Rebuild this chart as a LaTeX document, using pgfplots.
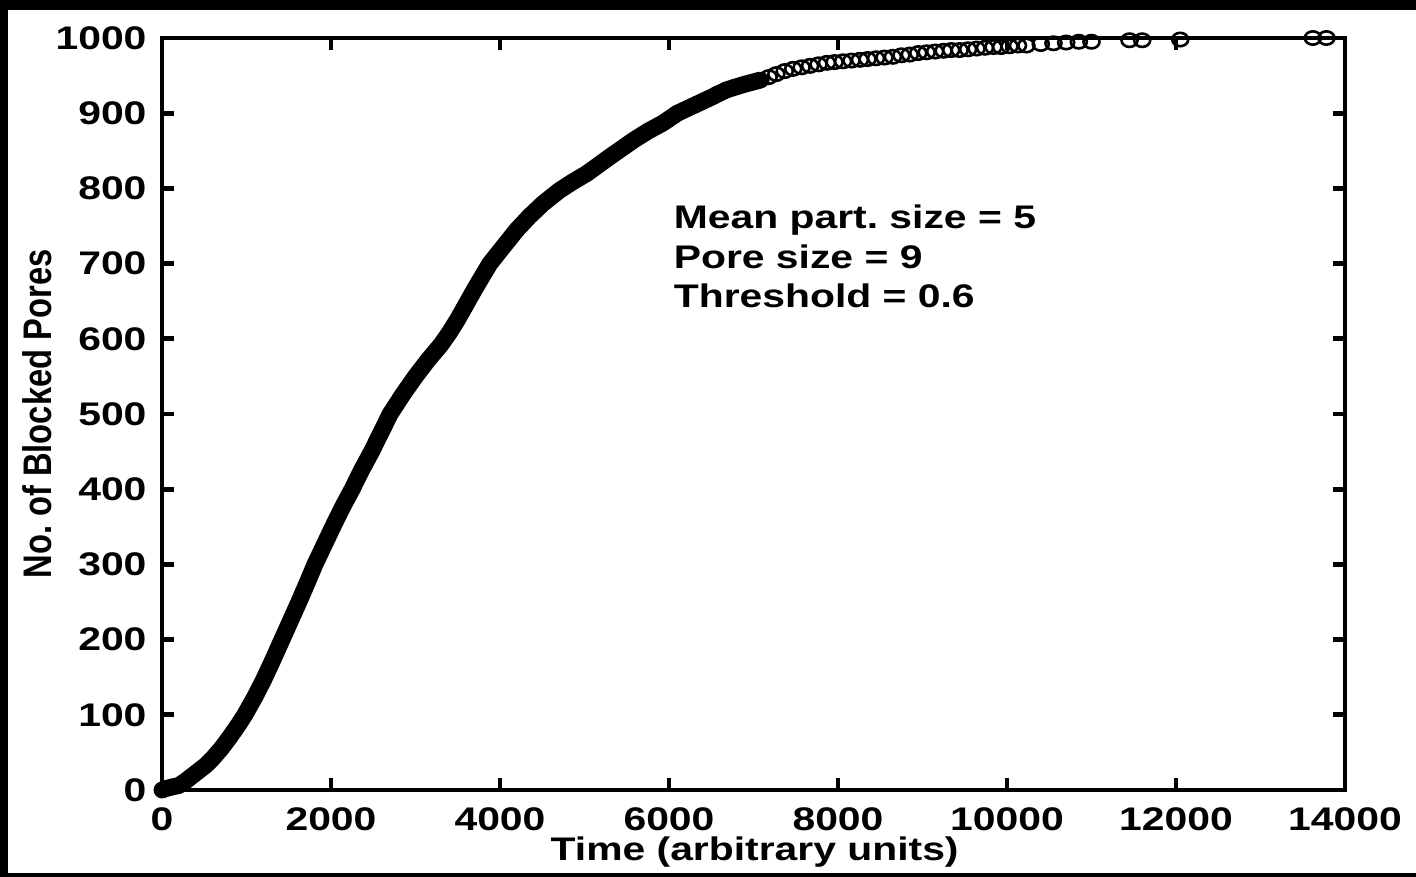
\documentclass[border=0pt]{standalone}
\usepackage{fontspec}
\setmainfont{Liberation Sans}
\usepackage{pgfplots}
\pgfplotsset{compat=1.18}

% cumulative number of blocked pores, dense part (drawn as a thick band)
\pgfplotstableread{
t n
0 0
50 2
120 4
200 6
280 12
360 19
440 26
520 33
600 42
700 55
800 70
900 86
980 100
1100 124
1200 146
1300 170
1420 200
1520 225
1620 250
1720 276
1810 300
1920 326
2030 352
2140 377
2250 400
2360 425
2480 450
2590 475
2700 500
2850 526
3000 550
3150 572
3300 592
3400 608
3500 626
3600 646
3700 666
3800 685
3880 700
4050 724
4200 745
4350 763
4510 780
4700 797
4850 808
5030 820
5300 842
5580 864
5750 876
5930 887
6100 900
6290 910
6480 920
6680 931
6880 938
7080 944
}\dense

% slow tail, individual markers
\pgfplotstableread{
t n
6100 900
6290 910
6480 920
6580 926
6680 931
6780 935
6880 938
6980 941
7080 944
7180 948
7270 952
7370 956
7470 959
7570 961
7670 963
7770 965
7870 967
7960 968
8060 969
8160 970
8260 971
8350 972
8450 973
8550 974
8650 975
8750 977
8850 978
8950 980
9050 981
9150 982
9250 983
9340 984
9440 984
9540 985
9640 986
9740 987
9840 988
9930 988
10030 989
10130 990
10230 990
10400 992
10550 993
10700 994
10850 995
11000 995
11450 997
11600 997
12050 998
13620 1000
13780 1000
}\tail

\begin{document}
\frenchspacing
\begin{tikzpicture}[x=1cm,y=1cm]
\useasboundingbox (-1.62,-0.87) rectangle (12.54,7.90);
\fill[black] (-1.62,-0.87) rectangle (12.54,7.90);
\fill[white] (-1.54,-0.83) rectangle (12.54,7.80);
\begin{axis}[
  at={(0,0)}, anchor=south west,
  scale only axis,
  width=11.83cm, height=7.52cm,
  xmin=0, xmax=14000, ymin=0, ymax=1000,
  xtick={0,2000,...,14000},
  ytick={0,100,...,1000},
  scaled ticks=false,
  axis line style={line width=1.4pt},
  every tick/.style={black, line width=1.4pt},
  major tick length=0.12cm,
  tick align=inside,
  /pgf/number format/assume math mode=true,
  /pgf/number format/1000 sep={},
  every tick label/.append style={font=\bfseries\fontsize{9.3}{11}\selectfont, xscale=1.25},
  xticklabel style={yshift=-1.5pt},
  xlabel={Time (arbitrary units)},
  ylabel={No. of Blocked Pores},
  xlabel style={font=\bfseries\fontsize{9.3}{11}\selectfont, xscale=1.25,
    at={(axis description cs:0.501,-0.0824)}, anchor=center},
  ylabel style={font=\bfseries\fontsize{9.3}{11}\selectfont, yscale=1.22,
    at={(axis description cs:-0.1057,0.5)}, anchor=center},
  clip=false,
]
\addplot[black, line width=4.8pt, line cap=round, line join=round] table[x=t, y=n] {\dense};
\addplot[only marks, black, mark=o, mark size=1.9pt,
  mark options={solid, line width=0.75pt, xscale=1.2}] table[x=t, y=n] {\tail};
\node[anchor=base west, inner sep=0, xscale=1.25,
  font=\bfseries\fontsize{9.3}{11}\selectfont] at (axis cs:6047,747) {Mean part.\ size = 5};
\node[anchor=base west, inner sep=0, xscale=1.25,
  font=\bfseries\fontsize{9.3}{11}\selectfont] at (axis cs:6047,694) {Pore size = 9};
\node[anchor=base west, inner sep=0, xscale=1.25,
  font=\bfseries\fontsize{9.3}{11}\selectfont] at (axis cs:6047,641) {Threshold = 0.6};
\end{axis}
\end{tikzpicture}
\end{document}
